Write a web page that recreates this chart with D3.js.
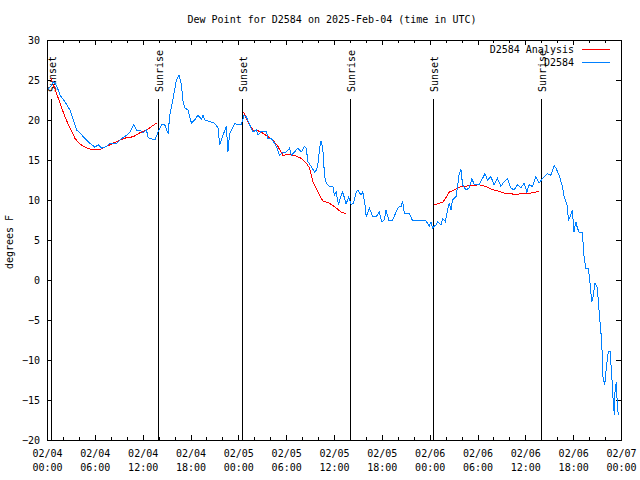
<!DOCTYPE html>
<html><head><meta charset="utf-8">
<script src="https://cdn.jsdelivr.net/npm/d3@7"></script>
<style>
body{margin:0;background:#fff}
svg{display:block}
text{font-family:"DejaVu Sans Mono","Liberation Mono",monospace;font-size:10px;fill:#000}
</style>
</head><body><svg id="c" width="640" height="480"></svg>
<script>
// ---------- data ----------
const chartTitle = "Dew Point for D2584 on 2025-Feb-04 (time in UTC)";
const yAxisLabel = "degrees F";
const seriesNames = ["D2584 Analysis", "D2584"];
const seriesColors = ["#ff0000", "#0080ff"];
const yTickValues = [-20, -15, -10, -5, 0, 5, 10, 15, 20, 25, 30];
const xMajorStepHours = 6;
const xMinorStepHours = 2;

// hours since 2025-02-04 00:00 UTC
const obsHours = [0.15,0.46,0.79,1.21,1.63,2.25,2.88,3.29,3.72,4.13,4.55,4.97,5.38,6.01,6.42,6.85,7.47,7.89,8.73,9.14,9.98,10.39,10.89,11.23,11.64,12.06,12.48,12.68,13.52,13.94,14.36,14.77,15.19,15.40,15.81,16.24,16.56,16.86,17.07,17.28,17.69,18.12,18.53,18.94,19.37,19.57,19.78,20.41,21.03,21.45,21.66,22.07,22.50,22.70,22.91,23.32,23.54,23.95,24.38,24.70,25.00,25.42,25.83,26.25,26.46,26.88,27.51,27.71,28.13,28.55,28.76,29.17,29.59,30.01,30.43,30.64,31.05,31.46,31.89,32.30,32.52,32.72,33.14,33.56,33.84,34.06,34.18,34.39,34.59,34.81,35.02,35.43,35.85,36.06,36.27,36.56,36.90,37.10,37.52,37.85,38.15,38.44,38.78,38.98,39.40,39.61,39.95,40.03,40.44,40.86,41.28,41.69,41.98,42.32,42.53,42.86,43.36,43.79,44.07,44.41,44.61,44.82,45.45,45.86,47.54,47.95,48.17,48.37,48.79,48.99,49.42,49.62,49.96,50.25,50.46,50.67,50.87,51.30,51.50,51.71,51.92,52.13,52.55,52.97,53.30,53.59,54.21,54.63,54.93,55.26,55.68,56.09,56.51,56.93,57.34,57.76,58.18,58.60,59.01,59.44,59.85,60.19,60.48,60.89,61.31,61.73,62.14,62.57,62.77,63.20,63.61,63.83,64.24,64.65,64.86,65.08,65.28,65.40,65.70,65.90,66.11,66.33,66.53,66.74,67.15,67.37,67.58,67.90,68.08,68.33,68.49,68.74,69.03,69.24,69.58,69.74,69.96,70.16,70.41,70.62,70.83,71.00,71.16,71.25,71.42,71.54,71.67];
const obsDew = [23.9,24.2,24.8,24.3,23.1,22.3,21.25,20.0,18.75,18.4,17.9,17.5,17.1,16.6,16.9,16.5,16.7,17.1,17.1,17.5,18.1,18.5,19.4,18.75,18.75,18.4,18.75,17.8,17.5,18.5,19.4,19.4,18.3,20.6,22.7,25.0,25.6,24.4,22.3,21.5,21.25,19.6,20.0,20.6,20.1,20.6,20.0,19.8,19.6,19.0,16.9,18.1,19.2,16.0,18.3,19.1,19.6,19.4,19.4,20.6,20.4,19.4,18.5,18.75,18.1,18.6,18.6,17.7,17.7,17.1,16.7,15.6,16.0,16.0,16.5,15.6,16.0,16.5,16.0,16.7,16.5,14.8,14.2,13.5,13.8,15.0,16.5,17.4,16.5,13.1,12.1,11.7,11.7,10.6,11.0,9.4,10.6,11.0,9.5,10.4,9.4,9.6,11.0,11.25,10.6,11.0,9.0,7.9,9.0,7.9,7.9,8.5,7.3,7.5,8.75,7.5,7.5,8.5,9.1,9.2,9.8,8.3,8.3,7.4,7.4,6.7,7.3,6.5,6.9,7.3,6.9,7.7,7.3,8.75,9.6,8.75,10.0,10.4,11.7,13.3,13.8,11.9,11.25,11.5,12.7,11.9,11.9,12.7,13.3,12.5,12.9,11.9,12.7,11.7,12.3,12.7,11.5,11.25,11.9,11.5,12.1,11.0,11.9,11.7,12.9,12.1,12.7,13.1,13.3,13.1,14.3,14.0,13.1,11.7,10.4,9.8,9.2,7.5,8.1,8.75,6.0,7.3,6.5,6.0,6.0,2.9,1.5,1.5,0.0,-2.7,-2.1,-0.4,-1.0,-3.75,-7.7,-12.1,-13.1,-11.0,-8.9,-8.9,-11.7,-14.8,-16.9,-13.9,-12.7,-15.8,-16.9];

// analysis (night-time segments; null = gap)
const anaHours = [0.50,1.21,1.63,2.25,2.88,3.51,4.13,4.97,5.80,6.64,7.47,8.30,9.14,9.98,10.81,11.64,12.48,13.73,null,24.67,25.00,25.42,25.83,26.67,27.30,28.34,28.96,29.59,30.43,31.27,31.89,32.52,32.93,33.35,33.97,34.59,35.43,36.27,36.90,37.52,null,48.58,49.21,49.62,50.05,50.46,51.09,51.71,52.97,54.21,55.05,55.88,56.72,57.56,58.39,59.23,60.07,60.89,61.73];
const anaDew = [25.2,23.3,22.1,20.4,19.0,17.7,17.0,16.5,16.25,16.3,16.7,17.1,17.5,17.8,17.9,18.4,18.75,19.6,null,21.0,20.2,19.4,18.75,18.6,18.2,17.5,16.7,15.6,15.7,15.5,15.2,14.6,14.0,12.3,11.0,9.9,9.6,9.0,8.5,8.25,null,9.4,9.6,9.7,10.3,11.0,11.25,11.6,11.8,11.9,11.7,11.3,11.1,10.8,10.75,10.75,10.8,10.9,11.1];

const sunLabels = ["Sunset", "Sunrise", "Sunset", "Sunrise", "Sunset", "Sunrise"];
const sunHours = [0.44, 13.94, 24.45, 37.98, 48.37, 62.02];

// ---------- layout ----------
const t0 = Date.UTC(2025, 1, 4);
const toDate = h => new Date(t0 + h * 3600e3);
const M = {l: 47, r: 621, t: 40, b: 440};
const svg = d3.select("#c");

const x = d3.scaleUtc().domain([toDate(0), toDate(72)]).range([M.l, M.r]);
const y = d3.scaleLinear().domain([-20, 30]).range([M.b, M.t]);

const majorTicks = d3.range(0, 72 + 0.001, xMajorStepHours).map(toDate);
const minorTicks = d3.range(0, 72 + 0.001, xMinorStepHours).filter(h => h % xMajorStepHours !== 0).map(toDate);
const fmtDate = d3.utcFormat("%m/%d"), fmtTime = d3.utcFormat("%H:%M");

function styleAxis(g) {
  g.select(".domain").remove();
  g.selectAll(".tick line").attr("stroke", "#000").attr("shape-rendering", "crispEdges");
  g.selectAll(".tick text").attr("fill", "#000").attr("font-family", null).attr("font-size", null);
}

// bottom major
svg.append("g").attr("transform", `translate(0,${M.b})`)
  .call(d3.axisBottom(x).tickValues(majorTicks).tickSizeInner(-5).tickSizeOuter(0).tickPadding(0).tickFormat(""))
  .call(styleAxis)
  .call(g => g.selectAll(".tick text").each(function(d) {
    const t = d3.select(this).attr("y", 0).attr("dy", null);
    t.append("tspan").attr("x", 0).attr("y", 16.5).text(fmtDate(d));
    t.append("tspan").attr("x", 0).attr("y", 30.5).text(fmtTime(d));
  }));
// bottom minor
svg.append("g").attr("transform", `translate(0,${M.b})`)
  .call(d3.axisBottom(x).tickValues(minorTicks).tickSizeInner(-3).tickSizeOuter(0).tickFormat(""))
  .call(styleAxis);
// top mirror
svg.append("g").attr("transform", `translate(0,${M.t})`)
  .call(d3.axisTop(x).tickValues(majorTicks).tickSizeInner(-5).tickSizeOuter(0).tickFormat(""))
  .call(styleAxis);
svg.append("g").attr("transform", `translate(0,${M.t})`)
  .call(d3.axisTop(x).tickValues(minorTicks).tickSizeInner(-3).tickSizeOuter(0).tickFormat(""))
  .call(styleAxis);
// left
svg.append("g").attr("transform", `translate(${M.l},0)`)
  .call(d3.axisLeft(y).tickValues(yTickValues).tickSizeInner(-5).tickSizeOuter(0).tickPadding(7).tickFormat(d3.format("d")))
  .call(styleAxis);
// right mirror
svg.append("g").attr("transform", `translate(${M.r},0)`)
  .call(d3.axisRight(y).tickValues(yTickValues).tickSizeInner(-5).tickSizeOuter(0).tickFormat(""))
  .call(styleAxis);

// frame
svg.append("rect").attr("x", M.l + 0.5).attr("y", M.t + 0.5)
  .attr("width", M.r - M.l).attr("height", M.b - M.t)
  .attr("fill", "none").attr("stroke", "#000").attr("shape-rendering", "crispEdges");

// title & y label
svg.append("text").attr("x", 332).attr("y", 23).attr("text-anchor", "middle").text(chartTitle);
svg.append("text").attr("transform", "translate(13,242) rotate(-90)").attr("text-anchor", "middle").text(yAxisLabel);

// sun lines
const sun = svg.append("g");
sunHours.forEach((h, i) => {
  const sx = Math.round(x(toDate(h))) + 0.5;
  sun.append("line").attr("x1", sx).attr("x2", sx).attr("y1", 99).attr("y2", M.b)
    .attr("stroke", "#000").attr("shape-rendering", "crispEdges");
  sun.append("text").attr("transform", `translate(${sx + 4},92) rotate(-90)`).text(sunLabels[i]);
});

// series
const obsData = obsHours.map((h, i) => ({h, v: obsDew[i]}));
const anaData = anaHours.map((h, i) => ({h, v: anaDew[i]}));
const line = d3.line().defined(d => d.h != null && d.v != null)
  .x(d => x(toDate(d.h))).y(d => y(d.v));

svg.append("path").datum(anaData).attr("d", line)
  .attr("fill", "none").attr("stroke", seriesColors[0]).attr("stroke-width", 1)
  .attr("shape-rendering", "crispEdges");
svg.append("path").datum(obsData).attr("d", line)
  .attr("fill", "none").attr("stroke", seriesColors[1]).attr("stroke-width", 1)
  .attr("shape-rendering", "crispEdges");

// legend
const lg = svg.append("g");
seriesNames.forEach((name, i) => {
  const ly = 49.5 + i * 13;
  lg.append("text").attr("x", 574).attr("y", ly + 3.5).attr("text-anchor", "end").text(name);
  lg.append("line").attr("x1", 582).attr("x2", 610).attr("y1", ly).attr("y2", ly)
    .attr("stroke", seriesColors[i]).attr("shape-rendering", "crispEdges");
});
</script>
</body></html>
